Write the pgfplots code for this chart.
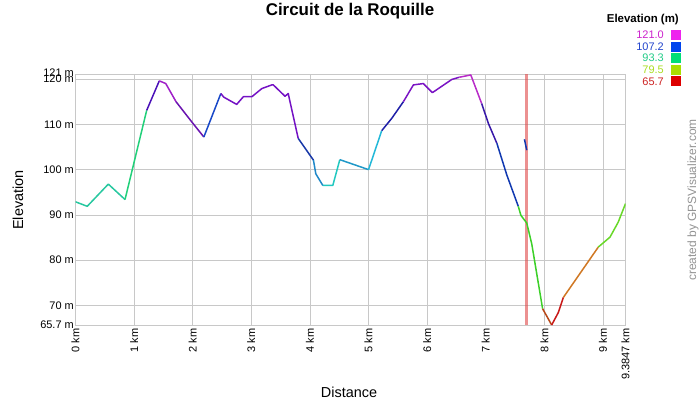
\documentclass[border=0pt]{standalone}
\usepackage{pgfplots}
\pgfplotsset{compat=1.18}
\usepackage{fontspec}
\setmainfont{Liberation Sans}

\definecolor{gridgray}{HTML}{C8C8C8}
\definecolor{cA}{HTML}{28C8A0}
\definecolor{cB}{HTML}{22D07A}
\definecolor{cC}{HTML}{4A10B8}
\definecolor{cD}{HTML}{A020C8}
\definecolor{cE}{HTML}{6A14B0}
\definecolor{cF}{HTML}{1848C8}
\definecolor{cG}{HTML}{7412C4}
\definecolor{cI}{HTML}{1838A8}
\definecolor{cJ}{HTML}{2088C8}
\definecolor{cK}{HTML}{22C8C0}
\definecolor{cL}{HTML}{2098C8}
\definecolor{cM}{HTML}{22B8D8}
\definecolor{cN}{HTML}{2020A8}
\definecolor{cO}{HTML}{7A14C4}
\definecolor{cQ}{HTML}{B82CC8}
\definecolor{cR}{HTML}{3818A8}
\definecolor{cS}{HTML}{1038B0}
\definecolor{cT}{HTML}{3CD028}
\definecolor{cU}{HTML}{B84818}
\definecolor{cV}{HTML}{C81818}
\definecolor{cW}{HTML}{D07824}
\definecolor{cX}{HTML}{68D828}
\definecolor{markerred}{HTML}{E04848}

\begin{document}
\begin{tikzpicture}[x=1bp,y=1bp]
\path[use as bounding box] (0,0) rectangle (700,400);
\begin{axis}[
    at={(75.5bp,75bp)}, anchor=south west,
    scale only axis, width=550bp, height=250.5bp,
    xmin=0, xmax=9.3847, ymin=65.7, ymax=121,
    xtick={0,1,2,3,4,5,6,7,8,9,9.3847},
    xticklabels={0 km,1 km,2 km,3 km,4 km,5 km,6 km,7 km,8 km,9 km,9.3847 km},
    ytick={65.7,70,80,90,100,110,120,121},
    yticklabels={65.7 m,70 m,80 m,90 m,100 m,110 m,120 m,\raisebox{4bp}{121 m}},
    xticklabel style={rotate=90, anchor=east, font=\fontsize{11}{11}\selectfont},
    yticklabel style={font=\fontsize{11}{11}\selectfont, inner sep=1.5bp},
    grid=major, major grid style={gridgray, line width=0.8bp},
    axis line style={gridgray, line width=0.8bp},
    major tick length=0,
    /pgf/number format/assume math mode=true,
    every axis plot/.append style={line width=1.5bp, line join=round, no marks},
]
% waypoint marker
\addplot[draw=none, fill=markerred, fill opacity=0.6] coordinates {(7.670,65.7) (7.670,121) (7.722,121) (7.722,65.7)} -- cycle;
\addplot[cA] coordinates {(0,92.9) (0.20,91.9) (0.56,96.8) (0.845,93.4)};
\addplot[cB] coordinates {(0.845,93.4) (1.215,113.1)};
\addplot[cC] coordinates {(1.215,113.1) (1.43,119.6)};
\addplot[cD] coordinates {(1.43,119.6) (1.54,119.0) (1.715,115.0)};
\addplot[cE] coordinates {(1.715,115.0) (1.98,110.6) (2.19,107.2)};
\addplot[cF] coordinates {(2.19,107.2) (2.48,116.8)};
\addplot[cG] coordinates {(2.48,116.8) (2.53,116.0) (2.75,114.4) (2.865,116.1)
    (3.01,116.1) (3.18,117.9) (3.35,118.7) (3.375,118.7) (3.575,116.2)
    (3.63,116.8) (3.66,115.0) (3.80,106.9)};
\addplot[cI] coordinates {(3.80,106.9) (4.00,103.2) (4.06,102.1)};
\addplot[cJ] coordinates {(4.06,102.1) (4.10,99.1) (4.22,96.5)};
\addplot[cK] coordinates {(4.22,96.5) (4.39,96.5) (4.51,102.2)};
\addplot[cL] coordinates {(4.51,102.2) (5.00,100.0)};
\addplot[cM] coordinates {(5.00,100.0) (5.225,108.6)};
\addplot[cN] coordinates {(5.225,108.6) (5.395,111.3) (5.595,115.0)};
\addplot[cO] coordinates {(5.595,115.0) (5.765,118.7) (5.935,119.0) (6.09,117.0)
    (6.42,119.9) (6.55,120.4)};
\addplot[cQ] coordinates {(6.55,120.4) (6.745,120.9) (6.93,114.6)};
\addplot[cR] coordinates {(6.93,114.6) (7.045,110.2) (7.19,105.8)};
\addplot[cS] coordinates {(7.19,105.8) (7.36,98.8) (7.555,91.9)};
\addplot[cT] coordinates {(7.555,91.9) (7.60,89.9) (7.70,88.2) (7.785,83.6) (7.97,69.3)};
\addplot[cU] coordinates {(7.97,69.3) (8.125,65.7)};
\addplot[cV] coordinates {(8.125,65.7) (8.24,68.5) (8.325,71.8)};
\addplot[cW] coordinates {(8.325,71.8) (8.92,82.9)};
\addplot[cX] coordinates {(8.92,82.9) (9.12,85.1) (9.26,88.4) (9.3847,92.5)};
\addplot[cS] coordinates {(7.66,106.7) (7.70,104.3)};
\end{axis}

% title and axis labels
\node[font=\fontsize{17}{17}\selectfont\bfseries] at (350,388.5) {Circuit de la Roquille};
\node[font=\fontsize{14.5}{14.5}\selectfont] at (349,8) {Distance};
\node[font=\fontsize{14.5}{14.5}\selectfont, rotate=90] at (18,200) {Elevation};
\node[font=\fontsize{12}{12}\selectfont, rotate=90, text=gray!85] at (693,200) {created by GPSVisualizer.com};

% colour key
\node[font=\fontsize{11.5}{11.5}\selectfont\bfseries, anchor=east, inner sep=0] at (679,380) {Elevation (m)};
\foreach \v/\tc/\sc/\yy in {121.0/CC22CC/EE22EE/365.3, 107.2/2244CC/0044EE/353.3,
    93.3/22CC88/00DD77/342, 79.5/AADD22/AADD00/330, 65.7/CC2222/DD0000/318.7} {
  \definecolor{tmpT}{HTML}{\tc}
  \definecolor{tmpS}{HTML}{\sc}
  \node[font=\fontsize{11}{11}\selectfont, anchor=east, inner sep=0, text=tmpT] at (664,\yy) {\v};
  \fill[tmpS] (671,\yy-5) rectangle (681,\yy+5);
}
\end{tikzpicture}
\end{document}
